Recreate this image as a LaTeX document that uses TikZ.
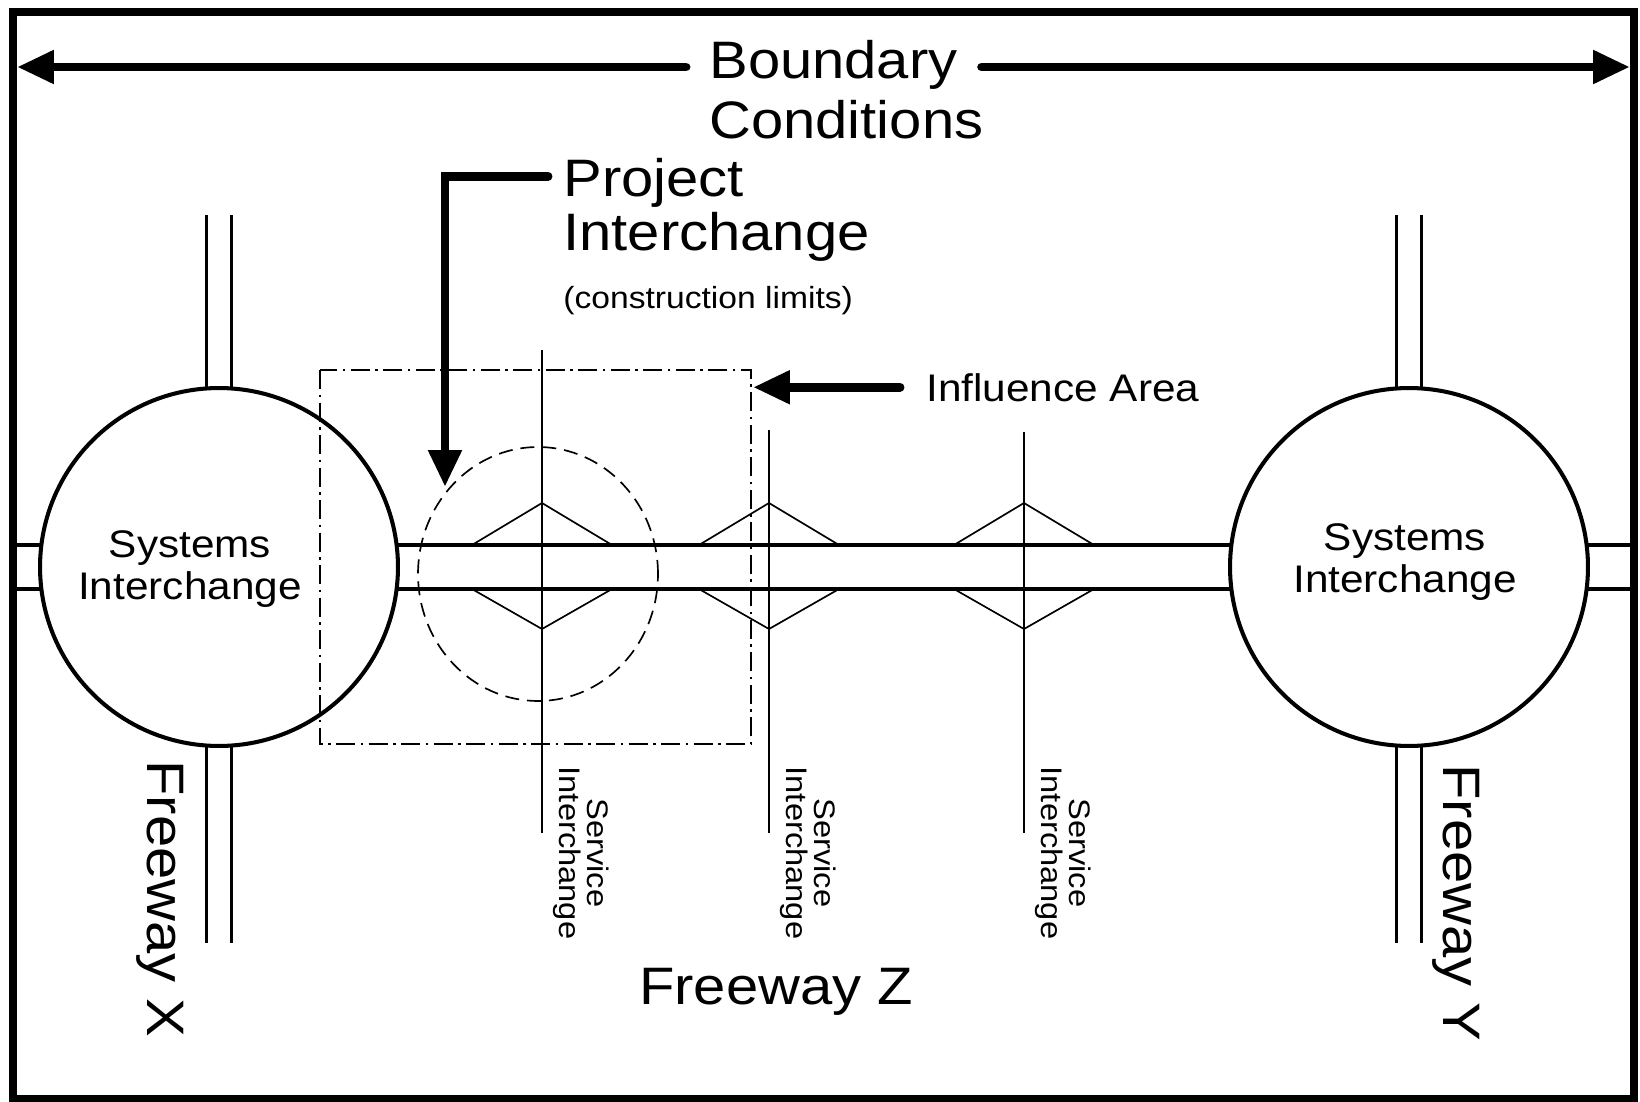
\documentclass[tikz,border=0pt]{standalone}
\usepackage{fontspec}
\setmainfont{Liberation Sans}[FakeStretch=1.1]
\usepackage{tikz}
\usetikzlibrary{arrows.meta}
\usetikzlibrary{shapes.geometric}
\usetikzlibrary{calc}

\begin{document}
\begin{tikzpicture}
  [
    x=0.02cm, y=-0.02cm,
    bigtext/.style={font=\fontsize{30}{34.1}\selectfont, inner sep=0pt},
    projtext/.style={font=\fontsize{30}{30.7}\selectfont, inner sep=0pt},
    midtext/.style={font=\fontsize{21.9}{24.4}\selectfont, inner sep=0pt},
    smalltext/.style={font=\fontsize{17.4}{19}\selectfont, inner sep=0pt},
    svctext/.style={font=\fontsize{16.9}{15.6}\selectfont, inner sep=0pt,
      align=center, rotate=-90},
    ptr/.style={line width=5.1pt, line cap=round,
      -{Triangle[length=21pt,width=18pt]}},
    road/.style={line width=2.3pt},
    fwy/.style={line width=1.7pt},
    ramp/.style={line width=0.95pt},
    sysint/.style={draw, circle, line width=2.3pt, minimum size=7.16cm,
      inner sep=0pt, outer sep=0pt}
  ]
  \useasboundingbox (0,0) rectangle (1640,1102);
  \fill[white] (0,0) rectangle (1640,1102);
  \draw[line width=4.5pt] (13,12) rectangle (1634,1099);

  % systems interchanges
  \node (sysL) at (219,567)  [sysint] {};
  \node (sysR) at (1409,567) [sysint] {};
  \node (sysLtxt) at (190,569)  [midtext, align=center] {Systems\\Interchange};
  \node (sysRtxt) at (1405,562) [midtext, align=center] {Systems\\Interchange};

  % freeway Z
  \draw[road] (sysL.7)  -- (sysR.173);
  \draw[road] (sysL.-7) -- (sysR.187);
  \draw[road] (sysL.173) -- (sysL.173 -| 16,0);
  \draw[road] (sysL.187) -- (sysL.187 -| 16,0);
  \draw[road] (sysR.7)  -- (sysR.7 -| 1631,0);
  \draw[road] (sysR.-7) -- (sysR.-7 -| 1631,0);

  % freeways X and Y
  \foreach \sys in {sysL, sysR} {
    \draw[fwy] (\sys.94)  -- (\sys.94 |- 0,215);
    \draw[fwy] (\sys.86)  -- (\sys.86 |- 0,215);
    \draw[fwy] (\sys.266) -- (\sys.266 |- 0,943);
    \draw[fwy] (\sys.274) -- (\sys.274 |- 0,943);
  }

  % service interchanges
  \foreach \sx/\ytop [count=\i] in {542/350, 769/430, 1024/432} {
    \draw[ramp] (\sx,\ytop) -- (\sx,833);
    \draw[ramp] (\sx-70,545) -- (\sx,503) -- (\sx+70,545);
    \draw[ramp] (\sx-70,589) -- (\sx,629) -- (\sx+70,589);
    \node (svc\i) at (\sx+39,853) [svctext] {Service\\Interchange};
  }

  % project and influence areas
  \node (projarea) at (538,574) [draw, ellipse, ramp, minimum width=4.8cm,
    minimum height=5.08cm, inner sep=0pt, dash pattern=on 8pt off 4.5pt] {};
  \coordinate (areaNW) at (320,370);
  \coordinate (areaSE) at (751,744);
  \draw[ramp, dash pattern=on 11pt off 3pt on 1.5pt off 3pt]
    (areaNW) rectangle (areaSE);

  % labels
  \node (bnd) at (709,89.3) [bigtext, anchor=west, align=left]
    {Boundary\\Conditions};
  \node (proj) at (563,210.3) [projtext, anchor=west, align=left]
    {Project\\Interchange};
  \node (limits) at (563,308) [smalltext, anchor=base west]
    {(construction limits)};
  \node (infl) at (926,401) [midtext, anchor=base west] {Influence Area};
  \node (fwyZ) at (776,1004) [bigtext, anchor=base] {Freeway Z};
  \node (fwyX) at (147,899) [bigtext, anchor=base, rotate=-90] {Freeway X};
  \node (fwyY) at (1443,903) [bigtext, anchor=base, rotate=-90] {Freeway Y};

  % pointers
  \coordinate (bndL) at (17,67);
  \coordinate (bndR) at (1630,67);
  \coordinate (projtip) at (445,487);
  \draw[ptr] ($(bnd.west |- bndL)+(-23,0)$) -- (bndL);
  \draw[ptr] ($(bnd.east |- bndR)+(-2,0)$) -- (bndR);
  \draw[ptr] ($(proj.west)+(-15,-34)$) -| (projtip);
  \draw[ptr] ($(infl.west)+(-26,0)$) -- ($(infl.west -| areaSE)+(2,0)$);
\end{tikzpicture}
\end{document}
